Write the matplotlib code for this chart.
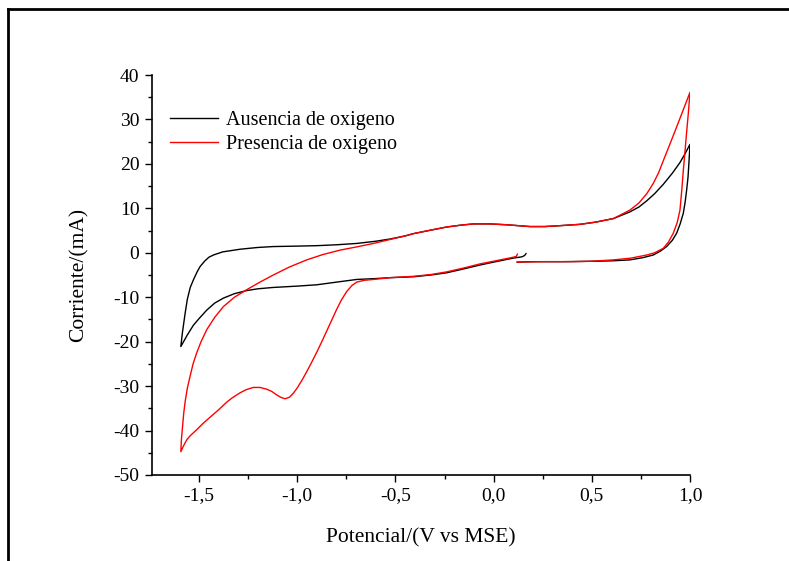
import matplotlib
matplotlib.use('Agg')
import matplotlib.pyplot as plt
from matplotlib.lines import Line2D
from matplotlib.ticker import MultipleLocator

# Voltametria ciclica: potencial (V vs MSE) y corriente (mA)
ausencia_v = [0.165, 0.158, 0.145, 0.10, 0.0, -0.069, -0.15, -0.239, -0.32, -0.409, -0.527, -0.6,
              -0.697, -0.80, -0.90, -1.0, -1.122, -1.20, -1.257, -1.32, -1.376, -1.42, -1.461,
              -1.50, -1.529, -1.56, -1.593,
              -1.585, -1.571, -1.56, -1.545, -1.529, -1.51, -1.495, -1.47, -1.45, -1.427, -1.38,
              -1.291, -1.20, -1.122, -1.0, -0.90, -0.80, -0.697, -0.6, -0.527, -0.45, -0.409,
              -0.32, -0.239, -0.17, -0.103, -0.02, 0.067, 0.185, 0.26, 0.338, 0.44, 0.52, 0.61,
              0.694, 0.74, 0.78, 0.82, 0.864, 0.91, 0.949, 0.975, 1.0,
              0.995, 0.99, 0.983, 0.975, 0.966, 0.95, 0.932, 0.91, 0.881, 0.85, 0.813, 0.76,
              0.694, 0.61, 0.525, 0.35, 0.20, 0.12]
ausencia_i = [-0.2, -0.6, -0.9, -1.2, -2.1, -2.75, -3.6, -4.5, -5.0, -5.4, -5.6, -5.8,
              -6.0, -6.6, -7.2, -7.5, -7.8, -8.1, -8.5, -9.2, -10.2, -11.3, -12.9,
              -14.8, -16.3, -18.5, -21.1,
              -18.0, -13.6, -10.5, -7.8, -6.1, -4.3, -3.1, -1.8, -1.0, -0.5, 0.2,
              0.8, 1.2, 1.4, 1.5, 1.6, 1.8, 2.1, 2.6, 3.1, 3.8, 4.3,
              5.1, 5.8, 6.2, 6.5, 6.5, 6.3, 5.9, 5.9, 6.1, 6.4, 6.9, 7.7,
              9.2, 10.3, 11.7, 13.3, 15.4, 17.9, 20.3, 22.3, 24.4,
              20.5, 17.0, 14.1, 11.3, 8.9, 6.5, 4.4, 2.8, 1.4, 0.4, -0.5, -1.1,
              -1.6, -1.8, -1.9, -2.0, -2.0, -2.1]

presencia_v = [0.121, 0.116, 0.10, 0.0, -0.069, -0.15, -0.239, -0.32, -0.409, -0.527, -0.612,
               -0.66, -0.697, -0.72, -0.748, -0.775, -0.80, -0.825, -0.85, -0.875, -0.90,
               -0.925, -0.95, -0.975, -1.0, -1.02, -1.04, -1.062, -1.085, -1.104, -1.13, -1.155,
               -1.19, -1.224, -1.26, -1.291, -1.33, -1.359, -1.40, -1.444, -1.48, -1.512,
               -1.546, -1.563, -1.58, -1.593,
               -1.590, -1.585, -1.578, -1.571, -1.56, -1.546, -1.53, -1.512, -1.49, -1.461,
               -1.42, -1.376, -1.32, -1.257, -1.19, -1.122, -1.04, -0.952, -0.87, -0.782,
               -0.70, -0.612, -0.527, -0.45, -0.409, -0.32, -0.239, -0.17, -0.103, -0.02,
               0.067, 0.185, 0.26, 0.338, 0.44, 0.52, 0.61, 0.694, 0.74, 0.78, 0.813, 0.84,
               0.864, 0.90, 0.932, 0.966, 1.0,
               0.992, 0.983, 0.975, 0.966, 0.958, 0.949, 0.935, 0.915, 0.89, 0.864, 0.82,
               0.78, 0.70, 0.61, 0.50, 0.40, 0.25, 0.12]
presencia_i = [-0.3, -0.8, -1.0, -1.9, -2.5, -3.4, -4.3, -4.9, -5.3, -5.6, -6.0,
               -6.2, -6.6, -7.3, -8.7, -10.6, -12.8, -15.2, -17.6, -20.0, -22.3,
               -24.5, -26.6, -28.6, -30.4, -31.6, -32.5, -32.85, -32.5, -32.0, -31.2, -30.7,
               -30.3, -30.3, -30.8, -31.5, -32.6, -33.6, -35.3, -37.0, -38.4, -39.8,
               -41.2, -42.1, -43.5, -44.75,
               -42.0, -39.5, -36.0, -33.5, -30.5, -27.8, -24.9, -22.5, -20.0, -17.3,
               -14.5, -12.1, -10.0, -8.3, -6.6, -5.0, -3.2, -1.6, -0.4, 0.6,
               1.3, 2.1, 3.0, 3.8, 4.3, 5.1, 5.8, 6.2, 6.5, 6.5,
               6.3, 5.9, 5.9, 6.1, 6.4, 6.9, 7.7, 9.6, 11.2, 13.3, 15.6, 18.0,
               20.7, 24.7, 28.3, 32.2, 36.1,
               31.6, 27.2, 23.0, 18.5, 14.0, 9.6, 6.8, 4.4, 2.4, 1.0, 0.0,
               -0.5, -1.2, -1.6, -1.9, -2.0, -2.0, -2.1]

x_ticks = [-1.5, -1.0, -0.5, 0.0, 0.5, 1.0]
x_labels = ['-1,5', '-1,0', '-0,5', '0,0', '0,5', '1,0']
y_ticks = [-50, -40, -30, -20, -10, 0, 10, 20, 30, 40]

plt.rcParams['font.family'] = ['Liberation Serif', 'DejaVu Serif']
plt.rcParams['axes.unicode_minus'] = False

fig = plt.figure(figsize=(7.89, 5.61), dpi=100)
ax = fig.add_axes([0.1926, 0.1533, 0.6819, 0.713])

ax.plot(ausencia_v, ausencia_i, color='black', linewidth=1.0, label='Ausencia de oxigeno')
ax.plot(presencia_v, presencia_i, color='red', linewidth=1.0, label='Presencia de oxigeno')

ax.set_xlim(-1.74, 1.0)
ax.set_ylim(-50, 40)
ax.set_xticks(x_ticks)
ax.set_xticklabels(x_labels)
ax.set_yticks(y_ticks)
ax.xaxis.set_minor_locator(MultipleLocator(0.25))
ax.yaxis.set_minor_locator(MultipleLocator(5))
ax.tick_params(which='major', direction='out', length=5, width=1, labelsize=14, pad=4)
ax.tick_params(which='minor', direction='out', length=3, width=1)

for side in ['top', 'right']:
    ax.spines[side].set_visible(False)
for side in ['left', 'bottom']:
    ax.spines[side].set_linewidth(1.2)

ax.set_xlabel('Potencial/(V vs MSE)', fontsize=15.5, labelpad=17)
ax.set_ylabel('Corriente/(mA)', fontsize=15.5, labelpad=18)

ax.legend(loc='upper left', bbox_to_anchor=(0.0, 0.955), frameon=False, fontsize=14.5,
          handlelength=2.4, handletextpad=0.4, labelspacing=0.25)

# marco exterior (solo arriba e izquierda)
fig.add_artist(Line2D([0.0101, 1.0], [0.984, 0.984], color='black', linewidth=2,
                      transform=fig.transFigure))
fig.add_artist(Line2D([0.0101, 0.0101], [0.0, 0.984], color='black', linewidth=2,
                      transform=fig.transFigure))

fig.savefig('out.png', dpi=100)
plt.close(fig)
